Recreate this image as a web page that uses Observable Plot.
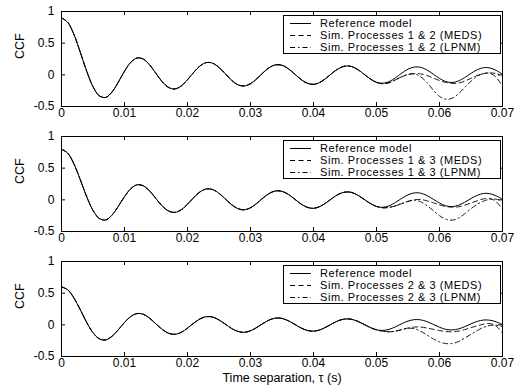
<!DOCTYPE html>
<html><head><meta charset="utf-8">
<script src="https://cdn.jsdelivr.net/npm/d3@7"></script>
<script src="https://cdn.jsdelivr.net/npm/@observablehq/plot@0.6"></script>
<style>
html,body{margin:0;padding:0;background:#fff;}
#chart{position:relative;width:521px;height:391px;overflow:hidden;font-family:"Liberation Sans",Arial,sans-serif;}
#chart svg{position:absolute;left:0;}
</style></head><body><div id="chart"></div>
<script>
// ---- data ----
const tau = [0,0.001,0.002,0.003,0.004,0.005,0.006,0.007,0.008,0.009,
  0.010,0.011,0.012,0.013,0.014,0.015,0.016,0.017,0.018,0.019,
  0.020,0.021,0.022,0.023,0.024,0.025,0.026,0.027,0.028,0.029,
  0.030,0.031,0.032,0.033,0.034,0.035,0.036,0.037,0.038,0.039,
  0.040,0.041,0.042,0.043,0.044,0.045,0.046,0.047,0.048,0.049,
  0.050,0.051,0.052,0.053,0.054,0.055,0.056,0.057,0.058,0.059,
  0.060,0.061,0.062,0.063,0.064,0.065,0.066,0.067,0.068,0.069,0.070];

const ref12 = [0.900,0.828,0.630,0.352,0.057,-0.186,-0.331,-0.357,-0.274,-0.118,
  0.057,0.198,0.266,0.248,0.155,0.022,-0.110,-0.199,-0.223,-0.176,
  -0.077,0.041,0.141,0.194,0.183,0.116,0.016,-0.086,-0.157,-0.176,
  -0.140,-0.062,0.033,0.115,0.158,0.151,0.096,0.014,-0.072,-0.132,
  -0.150,-0.120,-0.053,0.029,0.100,0.138,0.132,0.085,0.012,-0.063,
  -0.117,-0.133,-0.107,-0.048,0.026,0.089,0.123,0.119,0.077,0.011,
  -0.057,-0.106,-0.121,-0.097,-0.043,0.023,0.081,0.113,0.109,0.070,0.010];
// simulated curves from tau = 0.048 on (identical to the reference before)
const meds12Tail = [0.012,-0.063,-0.120,-0.140,-0.125,-0.080,-0.030,0.005,0.020,0.015,-0.010,-0.050,-0.090,-0.120,-0.135,-0.130,-0.100,-0.055,-0.010,0.020,0.025,-0.040,-0.180];
const lpnm12Tail = [0.012,-0.063,-0.120,-0.140,-0.125,-0.080,-0.030,0.005,0.015,-0.030,-0.120,-0.240,-0.340,-0.385,-0.370,-0.300,-0.200,-0.100,-0.020,0.020,0.030,0.020,-0.020];

const ref13 = [0.800,0.736,0.560,0.313,0.050,-0.166,-0.294,-0.318,-0.243,-0.105,
  0.050,0.176,0.237,0.221,0.138,0.019,-0.098,-0.177,-0.198,-0.157,
  -0.069,0.037,0.126,0.172,0.162,0.103,0.014,-0.076,-0.139,-0.157,
  -0.125,-0.055,0.030,0.102,0.141,0.134,0.086,0.012,-0.064,-0.118,
  -0.134,-0.106,-0.047,0.026,0.089,0.122,0.118,0.075,0.010,-0.056,
  -0.104,-0.118,-0.095,-0.042,0.023,0.079,0.110,0.106,0.068,0.010,
  -0.050,-0.094,-0.107,-0.086,-0.038,0.021,0.072,0.101,0.097,0.062,0.009];
const meds13Tail = [0.010,-0.056,-0.105,-0.125,-0.120,-0.095,-0.060,-0.025,0.000,0.005,-0.015,-0.045,-0.080,-0.105,-0.115,-0.110,-0.085,-0.050,-0.015,0.015,0.020,-0.030,-0.150];
const lpnm13Tail = [0.010,-0.056,-0.105,-0.125,-0.120,-0.095,-0.060,-0.025,-0.005,-0.030,-0.090,-0.170,-0.250,-0.305,-0.320,-0.290,-0.220,-0.140,-0.070,-0.020,0.010,0.010,-0.020];

const ref23 = [0.600,0.552,0.420,0.235,0.038,-0.124,-0.221,-0.238,-0.182,-0.079,
  0.038,0.132,0.178,0.166,0.103,0.014,-0.073,-0.133,-0.149,-0.118,
  -0.052,0.028,0.094,0.129,0.122,0.077,0.011,-0.057,-0.104,-0.118,
  -0.094,-0.041,0.022,0.077,0.106,0.101,0.064,0.009,-0.048,-0.088,
  -0.100,-0.080,-0.035,0.019,0.067,0.092,0.088,0.056,0.008,-0.042,
  -0.078,-0.089,-0.071,-0.032,0.017,0.059,0.082,0.079,0.051,0.007,
  -0.038,-0.071,-0.080,-0.065,-0.029,0.016,0.054,0.076,0.073,0.047,0.006];
const meds23Tail = [0.008,-0.042,-0.080,-0.100,-0.110,-0.100,-0.075,-0.050,-0.035,-0.035,-0.050,-0.070,-0.090,-0.105,-0.110,-0.100,-0.075,-0.045,-0.015,0.010,0.020,-0.020,-0.130];
const lpnm23Tail = [0.008,-0.042,-0.080,-0.100,-0.110,-0.100,-0.075,-0.055,-0.060,-0.100,-0.160,-0.220,-0.270,-0.295,-0.295,-0.265,-0.210,-0.150,-0.090,-0.040,-0.010,-0.005,-0.030];

const legend12 = ["Reference model","Sim. Processes 1 & 2 (MEDS)","Sim. Processes 1 & 2 (LPNM)"];
const legend13 = ["Reference model","Sim. Processes 1 & 3 (MEDS)","Sim. Processes 1 & 3 (LPNM)"];
const legend23 = ["Reference model","Sim. Processes 2 & 3 (MEDS)","Sim. Processes 2 & 3 (LPNM)"];

const xTicks = [0,0.01,0.02,0.03,0.04,0.05,0.06,0.07];
const xTickLabels = ["0","0.01","0.02","0.03","0.04","0.05","0.06","0.07"];
const yTicks = [-0.5,0,0.5,1];
const yTickLabels = ["-0.5","0","0.5","1"];
const yLabel = "CCF";
const xLabel = "Time separation, \u03c4 (s)";

// ---- drawing ----
const FONT = "Liberation Sans, Arial, Helvetica, sans-serif";
const splitAt = 48;
const panels = [
  {top: 0,   height: 124, mb: 18, ref: ref12, meds: ref12.slice(0, splitAt).concat(meds12Tail), lpnm: ref12.slice(0, splitAt).concat(lpnm12Tail), legend: legend12, title: false},
  {top: 125, height: 124, mb: 18, ref: ref13, meds: ref13.slice(0, splitAt).concat(meds13Tail), lpnm: ref13.slice(0, splitAt).concat(lpnm13Tail), legend: legend13, title: false},
  {top: 250, height: 141, mb: 35, ref: ref23, meds: ref23.slice(0, splitAt).concat(meds23Tail), lpnm: ref23.slice(0, splitAt).concat(lpnm23Tail), legend: legend23, title: true}
];
const W = 521, ML = 61, MR = 19, MT = 11;
const DASH_MEDS = "5,3.5", DASH_LPNM = "5,3,1.5,3";

const chart = document.getElementById("chart");
for (const p of panels) {
  const fh = p.height - MT - p.mb;
  const fw = W - ML - MR;
  const marks = [
    Plot.line(tau, {x: d => d, y: (d, i) => p.lpnm[i], curve: "catmull-rom", stroke: "black", strokeWidth: 0.9, strokeDasharray: DASH_LPNM}),
    Plot.line(tau, {x: d => d, y: (d, i) => p.meds[i], curve: "catmull-rom", stroke: "black", strokeWidth: 0.9, strokeDasharray: DASH_MEDS}),
    Plot.line(tau, {x: d => d, y: (d, i) => p.ref[i], curve: "catmull-rom", stroke: "black", strokeWidth: 1}),
    Plot.frame({stroke: "black", strokeWidth: 1}),
    Plot.tickX(xTicks, {x: d => d, insetTop: fh - 4, stroke: "black"}),
    Plot.tickX(xTicks, {x: d => d, insetBottom: fh - 4, stroke: "black"}),
    Plot.tickY(yTicks, {y: d => d, insetRight: fw - 4, stroke: "black"}),
    Plot.tickY(yTicks, {y: d => d, insetLeft: fw - 4, stroke: "black"}),
    Plot.axisX(xTicks, {tickSize: 0, tickPadding: 2, label: null, fontSize: 12, tickFormat: d => xTickLabels[xTicks.indexOf(d)]}),
    Plot.axisY(yTicks, {tickSize: 0, tickPadding: 7, label: null, fontSize: 12, tickFormat: d => yTickLabels[yTicks.indexOf(d)]}),
    Plot.text([yLabel], {frameAnchor: "left", rotate: -90, dx: -42, fontSize: 12.5, fill: "black"})
  ];
  if (p.title) marks.push(Plot.text([xLabel], {frameAnchor: "bottom", dy: 25, fontSize: 12.5, fill: "black"}));
  const svg = Plot.plot({
    width: W, height: p.height,
    marginLeft: ML, marginRight: MR, marginTop: MT, marginBottom: p.mb,
    style: {fontFamily: FONT, background: "transparent", color: "black", overflow: "visible"},
    x: {domain: [0, 0.07]},
    y: {domain: [-0.5, 1]},
    marks
  });
  svg.style.top = p.top + "px";
  // legend box
  const g = d3.select(svg).append("g")
    .attr("font-family", FONT).attr("font-size", 11).attr("fill", "black")
    .attr("text-anchor", "start").attr("letter-spacing", "0.55px");
  const lx = 283, ly = MT + 4, lw = 218, lh = 38;
  g.append("rect").attr("x", lx + 0.5).attr("y", ly + 0.5).attr("width", lw - 1).attr("height", lh)
    .attr("fill", "white").attr("stroke", "black").attr("stroke-width", 1);
  const dashes = [null, DASH_MEDS, DASH_LPNM];
  p.legend.forEach((lab, i) => {
    const y = ly + 8.5 + i * 12;
    const ln = g.append("line").attr("x1", 290).attr("x2", 311).attr("y1", y).attr("y2", y)
      .attr("stroke", "black").attr("stroke-width", 1);
    if (dashes[i]) ln.attr("stroke-dasharray", dashes[i]);
    g.append("text").attr("x", 320).attr("y", y).attr("dy", "0.35em").text(lab);
  });
  chart.appendChild(svg);
}
</script>
</body></html>
